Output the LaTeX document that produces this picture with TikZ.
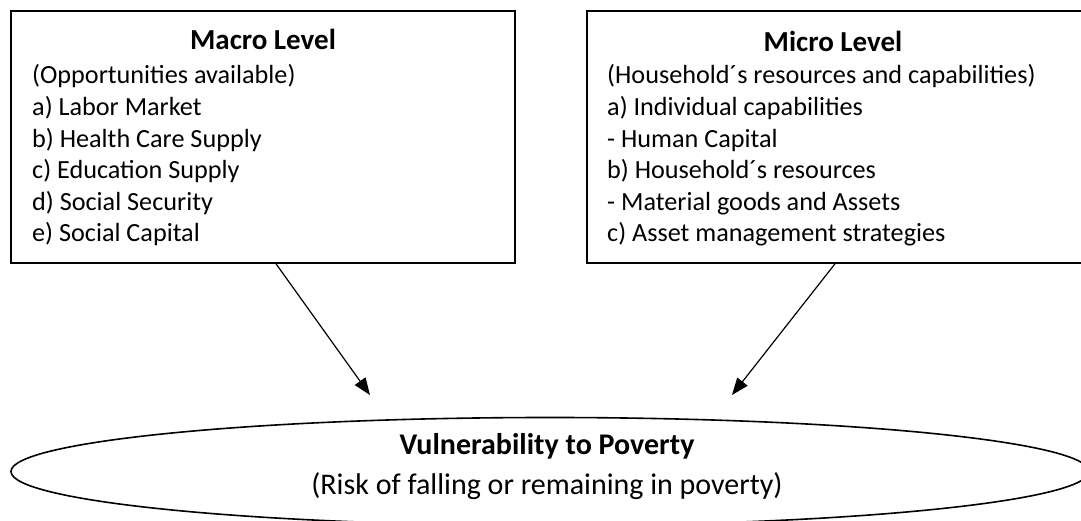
\documentclass[tikz,border=0pt]{standalone}
\usepackage{fontspec}
\setmainfont{Carlito}
\usetikzlibrary{shapes.geometric,arrows.meta,positioning}

\tikzset{
  levelbox/.style={draw,line width=1.6pt,minimum height=252pt,inner sep=0pt},
  boxtext/.style={anchor=base west,inner sep=0pt,font=\fontsize{26.2}{30}\selectfont},
  boxtitle/.style={anchor=base,inner sep=0pt,font=\fontsize{29}{33}\selectfont\bfseries},
  outcome/.style={anchor=base,inner sep=0pt,font=\fontsize{30}{34}\selectfont},
  influence/.style={line width=1.2pt,-{Triangle[length=17pt,width=13pt]}},
}

\begin{document}
\begin{tikzpicture}[x=1pt,y=1pt]
  \useasboundingbox (0,0) rectangle (1081,521);

  % the two levels
  \node[levelbox,minimum width=504pt] (macro) at (263,384) {};
  \node[levelbox,minimum width=496pt] (micro) at (835,384) {};

  \node[boxtitle] (macrotitle) at (263,471) {Macro Level};
  \node[boxtitle] (microtitle) at (833,469) {Micro Level};

  \foreach \txt [count=\i] in {(Opportunities available),a) Labor Market,
      b) Health Care Supply,c) Education Supply,d) Social Security,
      e) Social Capital}
    \node[boxtext] (macro\i) at (32,{437-31.6*(\i-1)}) {\txt};

  \foreach \txt [count=\i] in {(Household´s resources and capabilities),
      a) Individual capabilities,- Human Capital,b) Household´s resources,
      - Material goods and Assets,c) Asset management strategies}
    \node[boxtext] (micro\i) at (607,{437-31.6*(\i-1)}) {\txt};

  % outcome
  \node[ellipse,draw,line width=1.6pt,minimum width=1078pt,minimum height=108pt,
        inner sep=0pt] (poverty) at (550,49.5) {};
  \node[outcome,font=\fontsize{30}{34}\selectfont\bfseries]
    (vulner) at (547,66) {Vulnerability to Poverty};
  \node[outcome] (risk) at (547,26) {(Risk of falling or remaining in poverty)};

  \coordinate (macrotip) at (370,126);
  \coordinate (microtip) at (732,126);

  \draw[influence] ([xshift=13pt]macro.south) -- (macrotip);
  \draw[influence] (micro.south) -- (microtip);
\end{tikzpicture}
\end{document}
